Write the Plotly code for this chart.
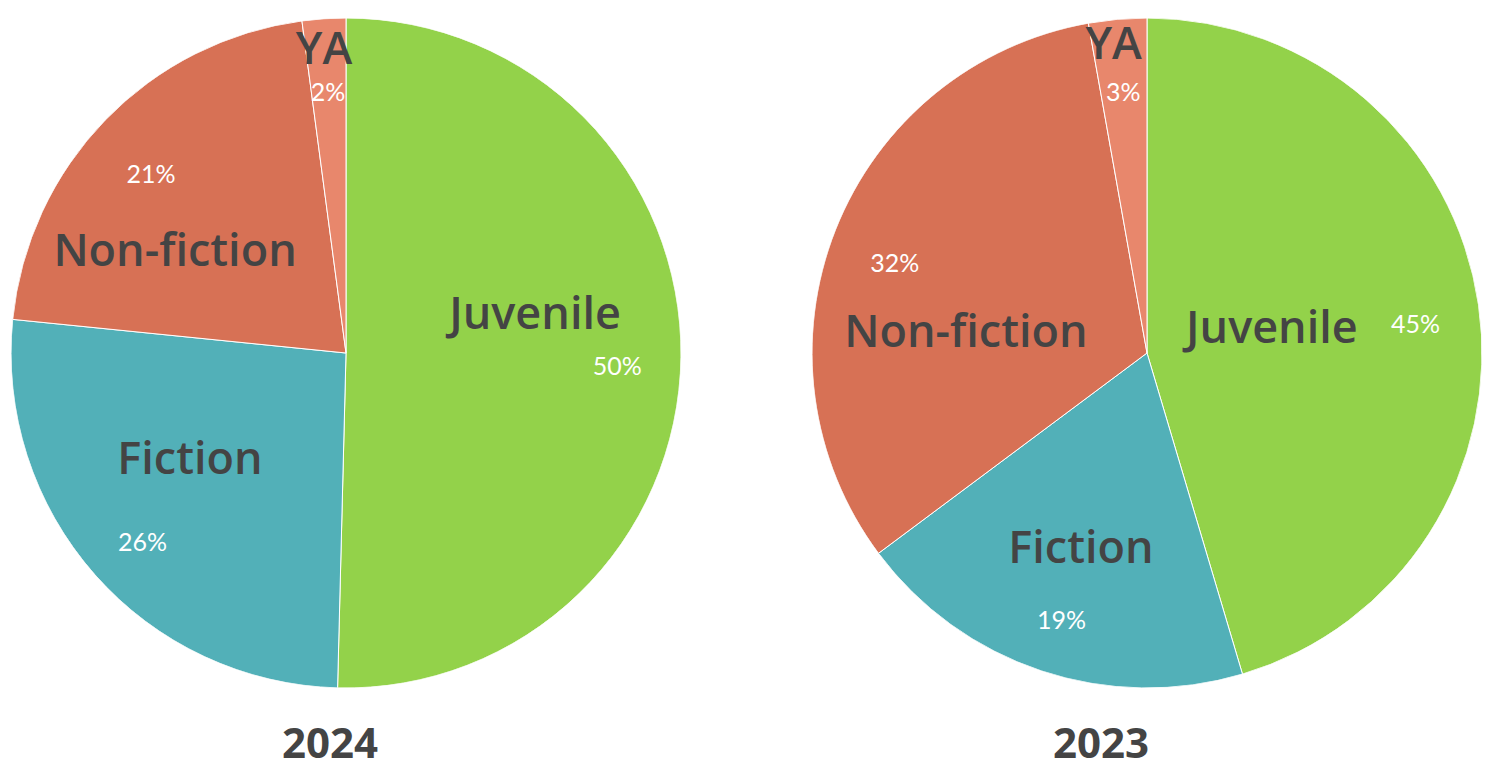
import plotly.graph_objects as go

# share of titles by category, in percent
categories = ["Juvenile", "Fiction", "Non-fiction", "YA"]
share_2024 = [50.4, 26.2, 21.3, 2.1]
share_2023 = [45.4, 19.4, 32.4, 2.8]
years = ["2024", "2023"]

colors = ["#93D24A", "#52B0B8", "#D77155", "#E8876C"]
TEXT = "#444444"

# label placement: offset from the slice's mid angle (deg) and radius (0-1)
label_nudge = {
    "2024": [(-11.2, 0.574), (6.2, 0.570), (-14.3, 0.588), (-0.4, 0.898)],
    "2023": [(-1.2, 0.378), (0, 0.626), (-16.2, 0.543), (-1.2, 0.916)],
}
PCT_R = 0.81

# page body keeps an 8px margin, so the figure is drawn a bit smaller
W, H, PAD = 1474, 764, 8


def px_x(x):
    return (x - PAD) / W


def px_y(y):
    return 1 - (y - PAD) / H


def slices(shares):
    """mid and width in degrees, clockwise from 12 o'clock"""
    total = sum(shares)
    start, mids, widths = 0.0, [], []
    for v in shares:
        w = v / total * 360
        mids.append(start + w / 2)
        widths.append(w)
        start += w
    return mids, widths


fig = go.Figure()
centers = [346, 1147]   # pie centres on the page, px
R = 335

for i, (yr, shares) in enumerate(zip(years, [share_2024, share_2023])):
    polar = "polar" if i == 0 else "polar2"
    mids, widths = slices(shares)
    fig.add_trace(go.Barpolar(
        r=[1] * len(shares), theta=mids, width=widths,
        marker=dict(color=colors, line=dict(color="white", width=1)),
        hovertext=categories, showlegend=False, subplot=polar))
    # percentages
    fig.add_trace(go.Scatterpolar(
        r=[PCT_R] * len(shares), theta=mids, mode="text",
        text=[f"{v:.0f}%" for v in shares], textposition="bottom center",
        textfont=dict(family="Lato", size=25, color="white"),
        hoverinfo="skip", showlegend=False, subplot=polar))
    # category names
    nud = label_nudge[yr]
    fig.add_trace(go.Scatterpolar(
        r=[n[1] for n in nud], theta=[m + n[0] for m, n in zip(mids, nud)],
        mode="text", text=categories,
        textfont=dict(family="Open Sans", size=45, color=TEXT, weight=600),
        hoverinfo="skip", showlegend=False, subplot=polar))

axis_off = dict(
    radialaxis=dict(range=[0, 1], visible=False),
    angularaxis=dict(rotation=90, direction="clockwise", visible=False,
                     showgrid=False, showline=False, showticklabels=False),
    bgcolor="rgba(0,0,0,0)", bargap=0, hole=0,
)
ydom = [px_y(353 + R), px_y(353 - R)]
fig.update_layout(
    width=W, height=H,
    margin=dict(l=0, r=0, t=0, b=0),
    paper_bgcolor="white", plot_bgcolor="white",
    polar=dict(domain=dict(x=[px_x(centers[0] - R), px_x(centers[0] + R)], y=ydom), **axis_off),
    polar2=dict(domain=dict(x=[px_x(centers[1] - R), px_x(centers[1] + R)], y=ydom), **axis_off),
    annotations=[
        dict(text=yr, x=px_x(xc), y=0, xref="paper", yref="paper",
             xanchor="center", yanchor="bottom", showarrow=False,
             font=dict(family="Open Sans", size=42, color=TEXT, weight=700))
        for yr, xc in zip(years, [330, 1101])
    ],
)

fig.write_html("out.html")
